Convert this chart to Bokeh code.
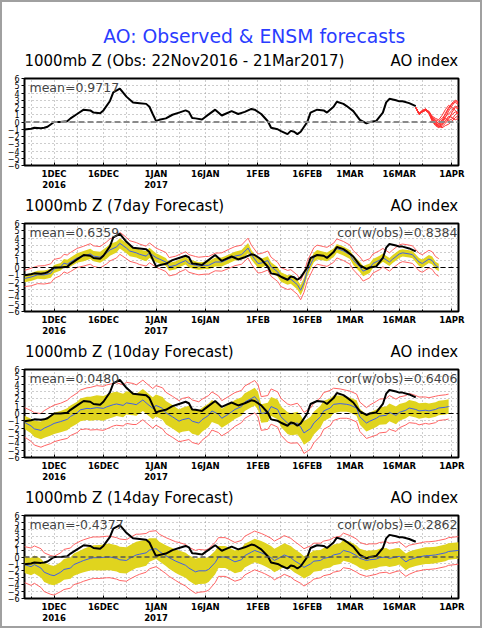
import datetime as dt
from bokeh.plotting import figure
from bokeh.models import Range1d, FixedTicker, Label, Span, LinearAxis
from bokeh.layouts import column
from bokeh.embed import file_html
from bokeh.resources import INLINE

BASE = dt.date(2016, 12, 1)


def dday(s):
    return (dt.date.fromisoformat(s) - BASE).days


# ---------------- data ----------------
main_title = "AO: Observed & ENSM forecasts"
panel_titles = ["1000mb Z (Obs: 22Nov2016 - 21Mar2017)", "1000mb Z (7day Forecast)",
                "1000mb Z (10day Forecast)", "1000mb Z (14day Forecast)"]
panel_right = "AO index"
panel_means = ["mean=0.9717", "mean=0.6359", "mean=0.0480", "mean=-0.4377"]
panel_cors = [None, "cor(w/obs)=0.8384", "cor(w/obs)=0.6406", "cor(w/obs)=0.2862"]

tick_dates = ["2016-12-01", "2016-12-16", "2017-01-01", "2017-01-16", "2017-02-01",
              "2017-02-16", "2017-03-01", "2017-03-16", "2017-04-01"]
tick_labels = ["1DEC\n2016", "16DEC", "1JAN\n2017", "16JAN", "1FEB", "16FEB", "1MAR", "16MAR", "1APR"]
grid_dates = ["2016-11-24", "2016-12-08", "2016-12-23", "2017-01-08", "2017-01-23",
              "2017-02-08", "2017-02-23", "2017-03-08", "2017-03-23"]
y_ticks = [-6, -5, -4, -3, -2, -1, 0, 1, 2, 3, 4, 5, 6]

# observed AO (days since 1 Dec 2016)
obs_day = [-9, -7, -6, -4, -3, -2, 0, 2, 4, 5, 7, 9, 11, 12, 14, 15, 17, 18, 20, 22,
           24, 26, 28, 29, 30, 31, 32, 34, 36, 38, 40, 41, 42, 43, 45, 46, 49, 51, 52, 54,
           56, 58, 60, 61, 63, 65, 66, 68, 69, 71, 72, 73, 74, 75, 77, 78, 80, 82, 83, 85,
           86, 88, 89, 91, 93, 95, 96, 98, 100, 101, 102, 104, 105, 106, 108, 110]
obs_val = [-1.05, -0.93, -0.8, -0.85, -0.8, -0.65, 0.0, 0.0, 0.1, 0.5, 1.1, 1.7, 1.6, 1.3, 1.2, 1.6, 2.9, 4.1, 4.6, 3.5,
           2.7, 2.6, 2.5, 2.1, 1.1, 0.15, 0.3, 0.5, 1.0, 1.3, 1.6, 1.4, 0.55, 0.5, 0.35, 0.7, 1.7, 0.9, 1.1, 1.5,
           1.1, 1.4, 1.8, 1.7, 1.1, 0.1, -0.8, -1.0, -1.26, -1.67, -1.22, -1.34, -1.67, -1.34, 0.0, 1.3, 1.7, 1.6, 1.3, 2.1,
           2.8, 2.5, 2.2, 1.5, 0.3, -0.2, 0.0, 0.15, 1.3, 2.7, 3.2, 3.0, 2.85, 2.85, 2.6, 2.2]

# ensemble members after 21 Mar (panel 1)
ens_day = [110, 111, 112, 113, 114, 115, 116, 117, 118, 119, 120, 121, 122, 123]
ens_members = [
    [2.0, 1.1, 1.5, 1.7, 1.3, 0.6, 0.2, -0.3, 0.2, 1.2, 2.0, 2.5, 2.7, 2.4],
    [2.0, 1.2, 1.6, 1.8, 1.4, 0.4, 0.0, -0.5, -0.2, 0.6, 1.5, 2.2, 2.9, 2.6],
    [2.0, 1.1, 1.4, 1.6, 1.2, 0.2, -0.4, -0.7, -0.6, -0.2, 0.4, 1.3, 2.0, 1.8],
    [2.0, 1.2, 1.5, 1.7, 1.5, 0.8, 0.5, 0.3, 0.9, 1.7, 2.3, 2.0, 1.6, 1.2],
    [2.0, 1.0, 1.4, 1.6, 1.3, 0.5, -0.2, -0.6, -0.8, -0.5, -0.3, 0.1, 0.6, 0.9],
    [2.0, 1.1, 1.5, 1.8, 1.4, 0.3, -0.3, -0.4, 0.0, 0.8, 1.1, 1.6, 2.2, 2.0],
    [2.0, 1.2, 1.6, 1.7, 1.3, 0.7, 0.3, 0.1, 0.5, 1.0, 1.8, 2.6, 3.0, 2.8],
    [2.0, 1.1, 1.5, 1.6, 1.2, 0.1, -0.5, -0.8, -0.3, 0.2, 0.8, 0.6, 0.3, 0.5],
    [2.0, 1.2, 1.4, 1.7, 1.4, 0.6, 0.1, -0.2, 0.3, 0.5, 0.2, 0.4, 1.0, 1.4],
    [2.0, 1.1, 1.5, 1.8, 1.3, 0.4, -0.1, -0.6, -0.4, 0.1, 0.6, 1.0, 1.4, 1.1],
]

# 7-day forecast: ensemble mean, 1-sd half width (yellow), outer half width (red)
f7_day = [-9, -7, -5, -3, -1, 0, 2, 3, 4, 5, 7, 9, 11, 12, 14, 16, 17, 19, 20, 22,
          23, 25, 26, 28, 29, 31, 32, 34, 35, 37, 38, 40, 41, 43, 44, 46, 47, 49, 51, 53,
          55, 57, 59, 60, 62, 63, 65, 66, 68, 69, 71, 72, 74, 75, 76, 77, 79, 80, 82, 83,
          85, 86, 88, 90, 91, 93, 94, 96, 97, 99, 100, 102, 103, 105, 106, 108, 109, 111, 112, 114,
          115, 116, 117]
f7_mean = [-1.5, -1.3, -1.0, -1.0, -0.8, -0.2, 0.1, 0.6, 0.45, 0.75, 1.3, 1.55, 1.85, 1.55, 1.4, 2.0, 2.4, 2.8, 3.3, 2.65,
           2.25, 2.0, 1.8, 1.55, 2.0, 1.35, 1.15, 0.75, 0.1, 0.3, 0.55, 0.95, 0.55, 0.3, 0.2, 0.3, 0.3, 0.75, 0.75, 1.15,
           1.55, 1.75, 2.65, 1.75, 0.55, 0.6, 0.95, 0.1, -0.6, -1.3, -1.7, -1.6, -2.35, -3.1, -2.1, -0.5, 1.35, 1.75, 1.55, 1.45,
           2.0, 2.6, 2.25, 1.75, 1.0, 0.1, -0.5, -0.1, 0.55, 1.0, 1.35, 0.75, 1.15, 1.85, 2.0, 1.85, 1.75, 0.75, 0.55, 1.15,
           0.95, 0.3, 0.0]
f7_sd = [0.5, 0.55, 0.55, 0.6, 0.6, 0.55, 0.5, 0.55, 0.6, 0.6, 0.65, 0.7, 0.7, 0.7, 0.75, 0.8, 0.8, 0.75, 0.7, 0.7,
         0.7, 0.65, 0.65, 0.7, 0.7, 0.6, 0.6, 0.55, 0.55, 0.55, 0.5, 0.55, 0.55, 0.55, 0.5, 0.5, 0.55, 0.6, 0.6, 0.6,
         0.6, 0.65, 0.7, 0.65, 0.6, 0.6, 0.6, 0.6, 0.65, 0.65, 0.65, 0.6, 0.65, 0.7, 0.7, 0.7, 0.65, 0.65, 0.6, 0.6,
         0.6, 0.6, 0.6, 0.6, 0.65, 0.7, 0.7, 0.65, 0.6, 0.6, 0.55, 0.55, 0.55, 0.55, 0.5, 0.5, 0.5, 0.55, 0.55, 0.55,
         0.55, 0.5, 0.5]
f7_rd = [1.1, 1.2, 1.2, 1.25, 1.3, 1.3, 1.2, 1.2, 1.25, 1.3, 1.3, 1.35, 1.4, 1.4, 1.45, 1.5, 1.5, 1.5, 1.5, 1.45,
         1.4, 1.4, 1.4, 1.35, 1.35, 1.3, 1.3, 1.3, 1.25, 1.25, 1.2, 1.2, 1.2, 1.2, 1.2, 1.2, 1.2, 1.2, 1.25, 1.3,
         1.3, 1.3, 1.35, 1.3, 1.3, 1.3, 1.3, 1.3, 1.3, 1.3, 1.3, 1.3, 1.3, 1.3, 1.3, 1.35, 1.35, 1.3, 1.3, 1.3,
         1.3, 1.3, 1.3, 1.3, 1.3, 1.35, 1.35, 1.3, 1.3, 1.3, 1.25, 1.25, 1.25, 1.25, 1.2, 1.2, 1.2, 1.2, 1.2, 1.2,
         1.2, 1.2, 1.2]

# 10-day forecast
f10_day = [-9, -7, -6, -4, -3, -1, 0, 2, 4, 5, 7, 8, 10, 11, 13, 15, 16, 18, 19, 21,
           22, 24, 25, 27, 28, 30, 31, 33, 34, 36, 38, 39, 41, 42, 44, 45, 47, 48, 50, 51,
           53, 55, 57, 58, 60, 61, 62, 63, 65, 66, 68, 69, 71, 72, 74, 75, 76, 78, 79, 81,
           82, 84, 85, 87, 89, 90, 92, 93, 95, 96, 98, 99, 101, 102, 104, 105, 107, 108, 110, 111,
           113, 114, 116, 117, 119, 120]
f10_mean = [-1.2, -1.7, -2.1, -2.3, -2.0, -1.6, -1.35, -1.1, -0.8, -0.4, 0.1, 0.5, 0.7, 0.65, 0.8, 0.7, 0.9, 1.2, 1.3, 1.1,
            1.45, 1.3, 1.2, 1.85, 1.45, 0.7, 1.1, 0.7, 0.1, -0.45, -1.05, -0.85, -0.65, -1.05, -1.3, -0.85, -0.25, 0.35, -0.1, -0.65,
            -0.1, 0.55, 0.95, 1.55, 2.05, 2.3, 1.75, 0.0, 0.15, 0.95, 0.55, -0.45, -1.3, -1.45, -1.3, -1.85, -2.65, -2.05, -1.3, -0.45,
            0.35, 0.75, 1.25, 1.35, 1.25, 1.15, 0.75, -0.45, -1.3, -1.05, -0.65, -0.35, -0.25, 0.15, -0.25, 0.15, 0.45, 0.75, 0.55, 0.35,
            0.45, 0.35, 0.55, 0.75, 0.85, 0.95]
f10_sd = [0.9, 1.0, 1.1, 1.2, 1.3, 1.4, 1.45, 1.45, 1.5, 1.5, 1.5, 1.55, 1.6, 1.65, 1.7, 1.7, 1.7, 1.7, 1.65, 1.6,
          1.6, 1.55, 1.5, 1.5, 1.5, 1.5, 1.5, 1.55, 1.6, 1.6, 1.6, 1.65, 1.7, 1.7, 1.7, 1.65, 1.6, 1.5, 1.4, 1.3,
          1.3, 1.3, 1.25, 1.2, 1.2, 1.2, 1.2, 1.25, 1.3, 1.3, 1.35, 1.4, 1.5, 1.5, 1.55, 1.6, 1.6, 1.6, 1.55, 1.5,
          1.4, 1.3, 1.2, 1.1, 1.0, 1.0, 1.05, 1.1, 1.15, 1.2, 1.2, 1.2, 1.2, 1.2, 1.2, 1.15, 1.1, 1.1, 1.1, 1.05,
          1.0, 1.0, 1.0, 1.0, 1.0, 1.0]
f10_rd = [2.0, 2.1, 2.2, 2.3, 2.4, 2.5, 2.5, 2.5, 2.6, 2.6, 2.7, 2.7, 2.8, 2.9, 3.0, 3.0, 3.0, 2.9, 2.9, 2.8,
          2.8, 2.8, 2.7, 2.7, 2.7, 2.7, 2.7, 2.8, 2.8, 2.8, 2.8, 2.9, 2.9, 2.9, 2.9, 2.8, 2.7, 2.6, 2.5, 2.4,
          2.4, 2.3, 2.2, 2.2, 2.2, 2.2, 2.2, 2.3, 2.3, 2.4, 2.4, 2.5, 2.6, 2.6, 2.7, 2.7, 2.8, 2.8, 2.7, 2.6,
          2.5, 2.4, 2.2, 2.0, 1.9, 1.9, 1.9, 2.0, 2.1, 2.2, 2.3, 2.3, 2.3, 2.3, 2.2, 2.1, 2.0, 2.0, 1.9, 1.9,
          1.8, 1.8, 1.8, 1.7, 1.7, 1.7]

# 14-day forecast
f14_day = [-9, -7, -6, -4, -3, -1, 0, 2, 3, 5, 6, 8, 9, 11, 12, 14, 16, 17, 19, 20,
           22, 23, 25, 26, 28, 29, 31, 32, 34, 35, 37, 38, 40, 41, 43, 44, 46, 47, 49, 50,
           52, 53, 55, 57, 58, 60, 61, 63, 64, 66, 67, 69, 70, 72, 73, 75, 76, 78, 79, 81,
           82, 84, 85, 87, 88, 90, 92, 93, 95, 96, 98, 99, 101, 102, 104, 105, 107, 108, 110, 111,
           113, 114, 116, 117, 119, 120, 123]
f14_mean = [-1.1, -1.4, -1.1, -1.6, -2.2, -2.6, -2.7, -2.2, -1.8, -1.6, -1.1, -0.7, -0.5, -0.2, -0.1, -0.1, 0.0, 0.0, -0.2, -0.4,
            -0.5, -0.2, 0.3, 0.4, 0.6, 1.0, 1.2, 0.8, 0.2, -0.1, -0.6, -0.8, -1.2, -1.6, -2.15, -2.0, -2.0, -1.8, -0.8, 0.0,
            0.0, -0.2, -0.7, -0.4, 0.2, 0.7, 0.95, 0.6, 0.4, -0.1, -0.5, 0.0, 0.3, -0.1, -0.5, -1.1, -1.5, -1.0, -0.6, -0.5,
            -0.2, 0.0, 0.3, 0.5, 0.95, 0.7, 0.2, -0.2, -0.5, -0.4, -0.3, -0.1, 0.0, -0.2, 0.0, 0.1, -0.7, -0.4, -0.1, 0.0,
            0.2, 0.2, 0.3, 0.4, 0.6, 0.8, 0.95]
f14_sd = [1.2, 1.25, 1.3, 1.35, 1.4, 1.4, 1.4, 1.45, 1.5, 1.55, 1.6, 1.65, 1.7, 1.75, 1.8, 1.85, 1.9, 1.9, 1.9, 1.9,
          1.9, 1.9, 1.9, 1.9, 1.85, 1.7, 1.5, 1.4, 1.5, 1.6, 1.7, 1.75, 1.8, 1.85, 1.9, 1.9, 1.85, 1.8, 1.7, 1.6,
          1.6, 1.6, 1.65, 1.7, 1.7, 1.7, 1.7, 1.7, 1.7, 1.7, 1.7, 1.7, 1.7, 1.7, 1.7, 1.65, 1.6, 1.6, 1.55, 1.5,
          1.5, 1.5, 1.5, 1.5, 1.5, 1.5, 1.45, 1.4, 1.4, 1.35, 1.3, 1.3, 1.3, 1.25, 1.25, 1.2, 1.2, 1.2, 1.2, 1.2,
          1.2, 1.2, 1.2, 1.2, 1.2, 1.2, 1.2]
f14_rd = [2.6, 2.7, 2.7, 2.8, 2.8, 2.8, 2.8, 2.8, 2.9, 2.9, 2.9, 3.0, 3.0, 3.0, 3.0, 3.0, 3.0, 3.0, 3.0, 3.0,
          3.0, 3.0, 3.0, 2.9, 2.8, 2.7, 2.6, 2.5, 2.6, 2.7, 2.8, 2.9, 3.0, 3.0, 3.1, 3.1, 3.0, 3.0, 2.9, 2.8,
          2.8, 2.8, 2.8, 2.8, 2.8, 2.8, 2.8, 2.8, 2.8, 2.8, 2.8, 2.8, 2.8, 2.8, 2.8, 2.7, 2.7, 2.6, 2.6, 2.5,
          2.5, 2.5, 2.5, 2.5, 2.5, 2.4, 2.4, 2.3, 2.3, 2.3, 2.2, 2.2, 2.2, 2.2, 2.1, 2.1, 2.1, 2.1, 2.0, 2.0,
          2.0, 2.0, 2.0, 2.0, 2.0, 2.0, 2.0]

# ---------------- styling ----------------
FONT = "DejaVu Sans"
YELLOW = "#e0d41e"
RED = "#ff6464"
BLUE = "#3f5fe8"
GRID = "#9a9a9a"
W = 478
X0, X1 = -9, 123
PX_PER_DAY = 434 / (X1 - X0)
HEAD_PX = 15
# approximate advance widths (em) of the header texts in DejaVu Sans
title_em = [21.32, 13.337, 13.973, 13.973]
right_em = 4.543

tick_days = [dday(d) for d in tick_dates]
grid_days = [dday(d) for d in grid_dates]


def make_panel(height, top, bottom, idx):
    p = figure(width=W, height=height, x_range=Range1d(X0, X1), y_range=Range1d(-6, 6),
               output_backend="svg", toolbar_location=None,
               min_border_left=22, min_border_right=22, min_border_top=top, min_border_bottom=bottom,
               background_fill_color="white", border_fill_color="white")
    p.outline_line_color = "black"
    p.outline_line_width = 2
    ticker = FixedTicker(ticks=tick_days, minor_ticks=grid_days)
    ax = p.below[0]
    ax.ticker = ticker
    ax.major_label_overrides = {d: lab for d, lab in zip(tick_days, tick_labels)}
    ax.axis_line_color = None
    ax.major_tick_in = 3
    ax.major_tick_out = 0
    ax.minor_tick_in = 2
    ax.minor_tick_out = 0
    ax.major_label_standoff = 3
    ax.major_label_text_font = FONT
    ax.major_label_text_font_size = "8.5px"
    ax.major_label_text_line_height = 1.15
    ax.major_label_text_font_style = "bold"
    ax.major_label_text_color = "black"
    ay = p.left[0]
    ay.ticker = FixedTicker(ticks=y_ticks)
    ay.axis_line_color = None
    ay.major_tick_in = 0
    ay.major_tick_out = 3
    ay.minor_tick_line_color = None
    ay.major_label_standoff = 2
    ay.major_label_text_font = FONT
    ay.major_label_text_font_size = "8px"
    ay.major_label_text_color = "black"
    for g in (p.xgrid, p.ygrid):
        g.grid_line_color = GRID
        g.grid_line_dash = "1 3"
        g.grid_line_width = 1
    p.xgrid.minor_grid_line_color = GRID
    p.xgrid.minor_grid_line_dash = "1 3"
    p.xgrid.ticker = ticker
    p.ygrid.ticker = FixedTicker(ticks=y_ticks)

    # header line above the frame: panel title (left) and "AO index" (right)
    c_left = X0 + title_em[idx] * HEAD_PX / 2 / PX_PER_DAY
    c_right = X1 - right_em * HEAD_PX / 2 / PX_PER_DAY
    top_ax = LinearAxis(ticker=FixedTicker(ticks=[c_left, c_right]),
                        major_label_overrides={c_left: panel_titles[idx], c_right: panel_right})
    top_ax.axis_line_color = None
    top_ax.major_tick_line_color = None
    top_ax.minor_tick_line_color = None
    top_ax.major_label_standoff = 3
    top_ax.major_label_text_font = FONT
    top_ax.major_label_text_font_size = f"{HEAD_PX}px"
    top_ax.major_label_text_color = "black"
    p.add_layout(top_ax, "above")

    p.add_layout(Label(x=X0, x_offset=5, y=6, y_offset=-9, text=panel_means[idx], text_font=FONT,
                       text_font_size="12.5px", text_baseline="middle", text_align="left"))
    if panel_cors[idx]:
        p.add_layout(Label(x=X1, x_offset=-1, y=6, y_offset=-9, text=panel_cors[idx], text_font=FONT,
                           text_font_size="12.5px", text_baseline="middle", text_align="right"))
    return p


def add_forecast(p, days, mean, sd, rd, zero_color, zero_width):
    lo = [m - s for m, s in zip(mean, sd)]
    hi = [m + s for m, s in zip(mean, sd)]
    rlo = [m - r for m, r in zip(mean, rd)]
    rhi = [m + r for m, r in zip(mean, rd)]
    p.varea(x=days, y1=lo, y2=hi, fill_color=YELLOW)
    p.line(days, rlo, line_color=RED, line_width=1)
    p.line(days, rhi, line_color=RED, line_width=1)
    p.line(days, mean, line_color=BLUE, line_width=1)
    p.add_layout(Span(location=0, dimension="width", line_color=zero_color,
                      line_width=zero_width, line_dash="5 3"))
    p.line(obs_day, obs_val, line_color="black", line_width=2)


# header strip with the main title
HDR_H = 46
hdr = figure(width=W, height=HDR_H, x_range=Range1d(0, W), y_range=Range1d(0, HDR_H),
             output_backend="svg", toolbar_location=None, min_border=0,
             x_axis_type=None, y_axis_type=None, outline_line_color=None,
             background_fill_color="white", border_fill_color="white")
hdr.grid.visible = False
hdr.add_layout(Label(x=253, y=12, text=main_title, text_font=FONT, text_font_size="18.8px",
                     text_color="#2a3cff", text_baseline="middle", text_align="center"))

# panel 1
p1 = make_panel(145, 22, 25, 0)
p1.add_layout(Span(location=0, dimension="width", line_color="#8a8a8a", line_width=2, line_dash="6 3"))
for mem in ens_members:
    p1.line(ens_day, mem, line_color="#ff3030", line_width=1)
p1.line(obs_day, obs_val, line_color="black", line_width=2)

p2 = make_panel(146, 22, 26, 1)
add_forecast(p2, f7_day, f7_mean, f7_sd, f7_rd, "black", 1)
p3 = make_panel(146, 21, 27, 2)
add_forecast(p3, f10_day, f10_mean, f10_sd, f10_rd, "black", 1)
p4 = make_panel(141, 21, 22, 3)
add_forecast(p4, f14_day, f14_mean, f14_sd, f14_rd, "#555555", 1.5)

layout = column(hdr, p1, p2, p3, p4, spacing=0,
                styles={"border": "2px solid #a0a0a0", "background-color": "white"})

open("out.html", "w").write(file_html(layout, INLINE, title="AO: Observed & ENSM forecasts"))
